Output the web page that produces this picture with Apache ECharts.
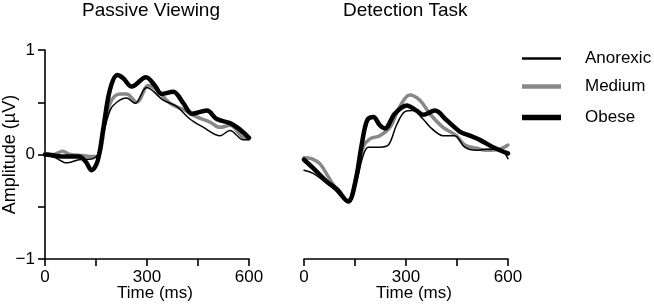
<!DOCTYPE html>
<html>
<head>
<meta charset="utf-8">
<script src="https://cdn.jsdelivr.net/npm/echarts@6/dist/echarts.min.js"></script>
<style>
html,body{margin:0;padding:0;background:#fff;}
#chart{width:654px;height:305px;}
</style>
</head>
<body>
<div id="chart"></div>
<script>
// ---- data: [time (ms), amplitude (µV)] ----
const panelTitles = ['Passive Viewing', 'Detection Task'];
const groupNames = ['Anorexic', 'Medium', 'Obese'];
const xTickLabels = ['0', '300', '600'];
const yTickLabels = ['−1', '0', '1'];

const passiveAnorexic = [[0,0.0],[30,-0.03],[64,-0.08],[100,-0.05],[140,-0.04],[155,0.0],[167,0.14],[191,0.42],[211,0.50],[240,0.54],[265,0.49],[299,0.64],[348,0.52],[387,0.46],[426,0.34],[466,0.26],[515,0.18],[544,0.23],[583,0.14],[600,0.14]];
const passiveMedium = [[0,0.01],[25,0.0],[52,0.03],[75,0.0],[110,-0.01],[140,-0.02],[160,0.0],[178,0.33],[196,0.52],[221,0.58],[240,0.58],[270,0.50],[304,0.66],[328,0.62],[368,0.49],[407,0.43],[446,0.36],[485,0.31],[515,0.26],[544,0.28],[583,0.16],[600,0.15]];
const passiveObese = [[0,0.0],[25,-0.01],[55,-0.02],[100,-0.02],[120,-0.07],[137,-0.15],[155,-0.06],[172,0.26],[191,0.62],[213,0.76],[230,0.73],[255,0.65],[297,0.74],[323,0.66],[343,0.58],[377,0.60],[407,0.49],[433,0.39],[476,0.42],[505,0.34],[544,0.30],[569,0.25],[600,0.16]];

const detectAnorexic = [[0,-0.15],[27,-0.18],[57,-0.25],[91,-0.34],[130,-0.46],[155,-0.25],[174,-0.01],[189,0.07],[223,0.07],[248,0.09],[272,0.28],[297,0.41],[321,0.42],[350,0.34],[375,0.25],[409,0.18],[443,0.18],[473,0.07],[507,0.04],[536,0.05],[575,0.05],[600,-0.04]];
const detectMedium = [[0,-0.03],[22,-0.04],[47,-0.09],[71,-0.21],[101,-0.36],[130,-0.44],[155,-0.18],[174,0.07],[194,0.15],[223,0.18],[253,0.26],[282,0.46],[311,0.57],[341,0.52],[370,0.39],[409,0.26],[448,0.18],[473,0.09],[507,0.06],[536,0.04],[575,0.05],[600,0.09]];
const detectObese = [[0,-0.05],[27,-0.13],[67,-0.26],[96,-0.33],[130,-0.45],[150,-0.28],[170,0.10],[186,0.33],[204,0.36],[223,0.28],[238,0.25],[267,0.39],[302,0.47],[331,0.42],[350,0.38],[385,0.42],[419,0.33],[458,0.22],[488,0.18],[517,0.14],[556,0.07],[600,0.01]];

// ---- styles ----
const FONT = 'Liberation Sans, Arial, sans-serif';
const styles = {
  Anorexic: {color: '#000000', width: 1.5, legendH: 2.5},
  Medium:   {color: '#888888', width: 3.5, legendH: 4.5},
  Obese:    {color: '#000000', width: 4.5, legendH: 5.5}
};

function xAxis(gridIndex) {
  return {
    type: 'value', gridIndex, min: 0, max: 600, interval: 150,
    name: 'Time (ms)', nameLocation: 'middle', nameGap: 26, nameMoveOverlap: false,
    nameTextStyle: {fontSize: 17, color: '#000', fontFamily: FONT, padding: [0,0,0,16]},
    axisLine: {show: true, onZero: false, lineStyle: {color: '#000', width: 1.6}},
    axisTick: {show: true, inside: false, length: 7, lineStyle: {color: '#000', width: 1.6}},
    axisLabel: {fontSize: 17, color: '#000', fontFamily: FONT, margin: 10,
      formatter: v => (v === 0 ? xTickLabels[0] : v === 300 ? xTickLabels[1] : v === 600 ? xTickLabels[2] : '')},
    splitLine: {show: false}
  };
}
function yAxis(gridIndex, show) {
  return {
    type: 'value', gridIndex, min: -1, max: 1, interval: 0.5, show,
    name: 'Amplitude (µV)', nameLocation: 'middle', nameGap: 26, nameMoveOverlap: false,
    nameTextStyle: {fontSize: 18, color: '#000', fontFamily: FONT},
    axisLine: {show: true, onZero: false, lineStyle: {color: '#000', width: 1.6}},
    axisTick: {show: true, inside: false, length: 7, lineStyle: {color: '#000', width: 1.6}},
    axisLabel: {fontSize: 17, color: '#000', fontFamily: FONT, margin: 10,
      formatter: v => (v === -1 ? yTickLabels[0] : v === 0 ? yTickLabels[1] : v === 1 ? yTickLabels[2] : '')},
    splitLine: {show: false}
  };
}
function line(name, data, idx) {
  const s = styles[name];
  return {
    name, type: 'line', xAxisIndex: idx, yAxisIndex: idx, data,
    showSymbol: false, symbol: 'none', smooth: 0.35,
    lineStyle: {color: s.color, width: s.width, cap: 'round', join: 'round'},
    itemStyle: {color: s.color},
    animation: false, silent: true
  };
}

const legendTops = [50, 78, 109];
const option = {
  backgroundColor: '#fff',
  animation: false,
  title: [
    {text: panelTitles[0], left: 82, top: 1, padding: 0,
     textStyle: {fontSize: 19, fontWeight: 'normal', color: '#000', fontFamily: FONT}},
    {text: panelTitles[1], left: 343, top: 1, padding: 0,
     textStyle: {fontSize: 19, fontWeight: 'normal', color: '#000', fontFamily: FONT}}
  ],
  legend: groupNames.map((n, i) => ({
    data: [n], left: 522, top: legendTops[i], padding: 0,
    icon: 'rect', itemWidth: 39, itemHeight: styles[n].legendH,
    selectedMode: false,
    textStyle: {fontSize: 17, color: '#000', fontFamily: FONT, padding: [0,0,5,19]}
  })),
  grid: [
    {left: 45, top: 50, width: 204, height: 209, containLabel: false, outerBoundsMode: 'none'},
    {left: 304, top: 50, width: 204, height: 209, containLabel: false, outerBoundsMode: 'none'}
  ],
  xAxis: [xAxis(0), xAxis(1)],
  yAxis: [yAxis(0, true), yAxis(1, false)],
  series: [
    line('Medium', passiveMedium, 0),
    line('Obese', passiveObese, 0),
    line('Anorexic', passiveAnorexic, 0),
    line('Medium', detectMedium, 1),
    line('Obese', detectObese, 1),
    line('Anorexic', detectAnorexic, 1)
  ]
};
const chart = echarts.init(document.getElementById('chart'), null, {renderer: 'canvas'});
chart.setOption(option);
</script>
</body>
</html>
